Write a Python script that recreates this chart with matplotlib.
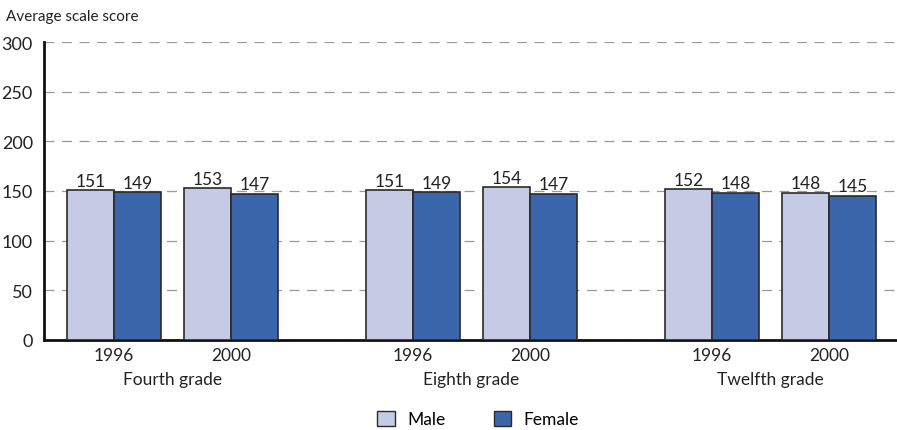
import matplotlib
matplotlib.use("Agg")
import matplotlib.pyplot as plt
from matplotlib.patches import Patch
import numpy as np

grades = ["Fourth grade", "Eighth grade", "Twelfth grade"]
years = ["1996", "2000"]
male = [151, 153, 151, 154, 152, 148]
female = [149, 147, 149, 147, 148, 145]
yticks = [0, 50, 100, 150, 200, 250, 300]

plt.rcParams['font.family'] = ['Lato', 'DejaVu Sans']

fig = plt.figure(figsize=(8.97, 4.31), dpi=100)
ax = fig.add_axes([44/897, 1-341/431, 1-44/897, (341-43)/431])

male_c = "#C5CBE4"
female_c = "#3C66AB"
edge = "#2b2b2b"

group_gap = 299/117
w = 47/117
pos = []
for g in range(3):
    for y in range(2):
        pos.append(g*group_gap + y)
pos = np.array(pos)

ax.bar(pos - w/2, male, width=w, color=male_c, edgecolor=edge, linewidth=1.2, zorder=3)
ax.bar(pos + w/2, female, width=w, color=female_c, edgecolor=edge, linewidth=1.2, zorder=3)

for x, m, f in zip(pos, male, female):
    ax.text(x - w/2, m + 1.5, str(m), ha='center', va='bottom', fontsize=12.5, color="#222")
    ax.text(x + w/2, f + 1.5, str(f), ha='center', va='bottom', fontsize=12.5, color="#222")

ax.set_xlim((44-114)/117, (897-114)/117)
ax.set_ylim(0, 300)
ax.set_yticks(yticks)
ax.set_yticklabels([str(t) for t in yticks], fontsize=13)
ax.yaxis.grid(True, linestyle=(0, (8, 6)), color="#9a9a9a", linewidth=0.9, zorder=0)
ax.set_axisbelow(True)
ax.tick_params(axis='y', length=0, pad=8, labelcolor="#222")
ax.tick_params(axis='x', length=0, pad=5)
ax.set_xticks(pos)
ax.set_xticklabels([years[i % 2] for i in range(6)], fontsize=12.5, color="#222")

for g, name in enumerate(grades):
    xc = g*group_gap + 0.5
    ax.text(xc, -0.13, name, transform=ax.get_xaxis_transform(), ha='center', va='center',
            fontsize=12.5, color="#222")

for s in ['top', 'right']:
    ax.spines[s].set_visible(False)
ax.spines['left'].set_linewidth(2)
ax.spines['bottom'].set_linewidth(2)
ax.spines['left'].set_color("#111")
ax.spines['bottom'].set_color("#111")

fig.text(6/897, 1-17/431, "Average scale score", ha='left', va='center', fontsize=11, color="#222")

handles = [Patch(facecolor=male_c, edgecolor=edge, label="Male"),
           Patch(facecolor=female_c, edgecolor=edge, label="Female")]
fig.legend(handles=handles, loc='center', bbox_to_anchor=(478/897, 1-420/431), ncol=2,
           frameon=False, fontsize=12.5, handlelength=1.0, handleheight=1.0,
           columnspacing=2.8, handletextpad=0.7)

fig.savefig("out.png", dpi=100)
